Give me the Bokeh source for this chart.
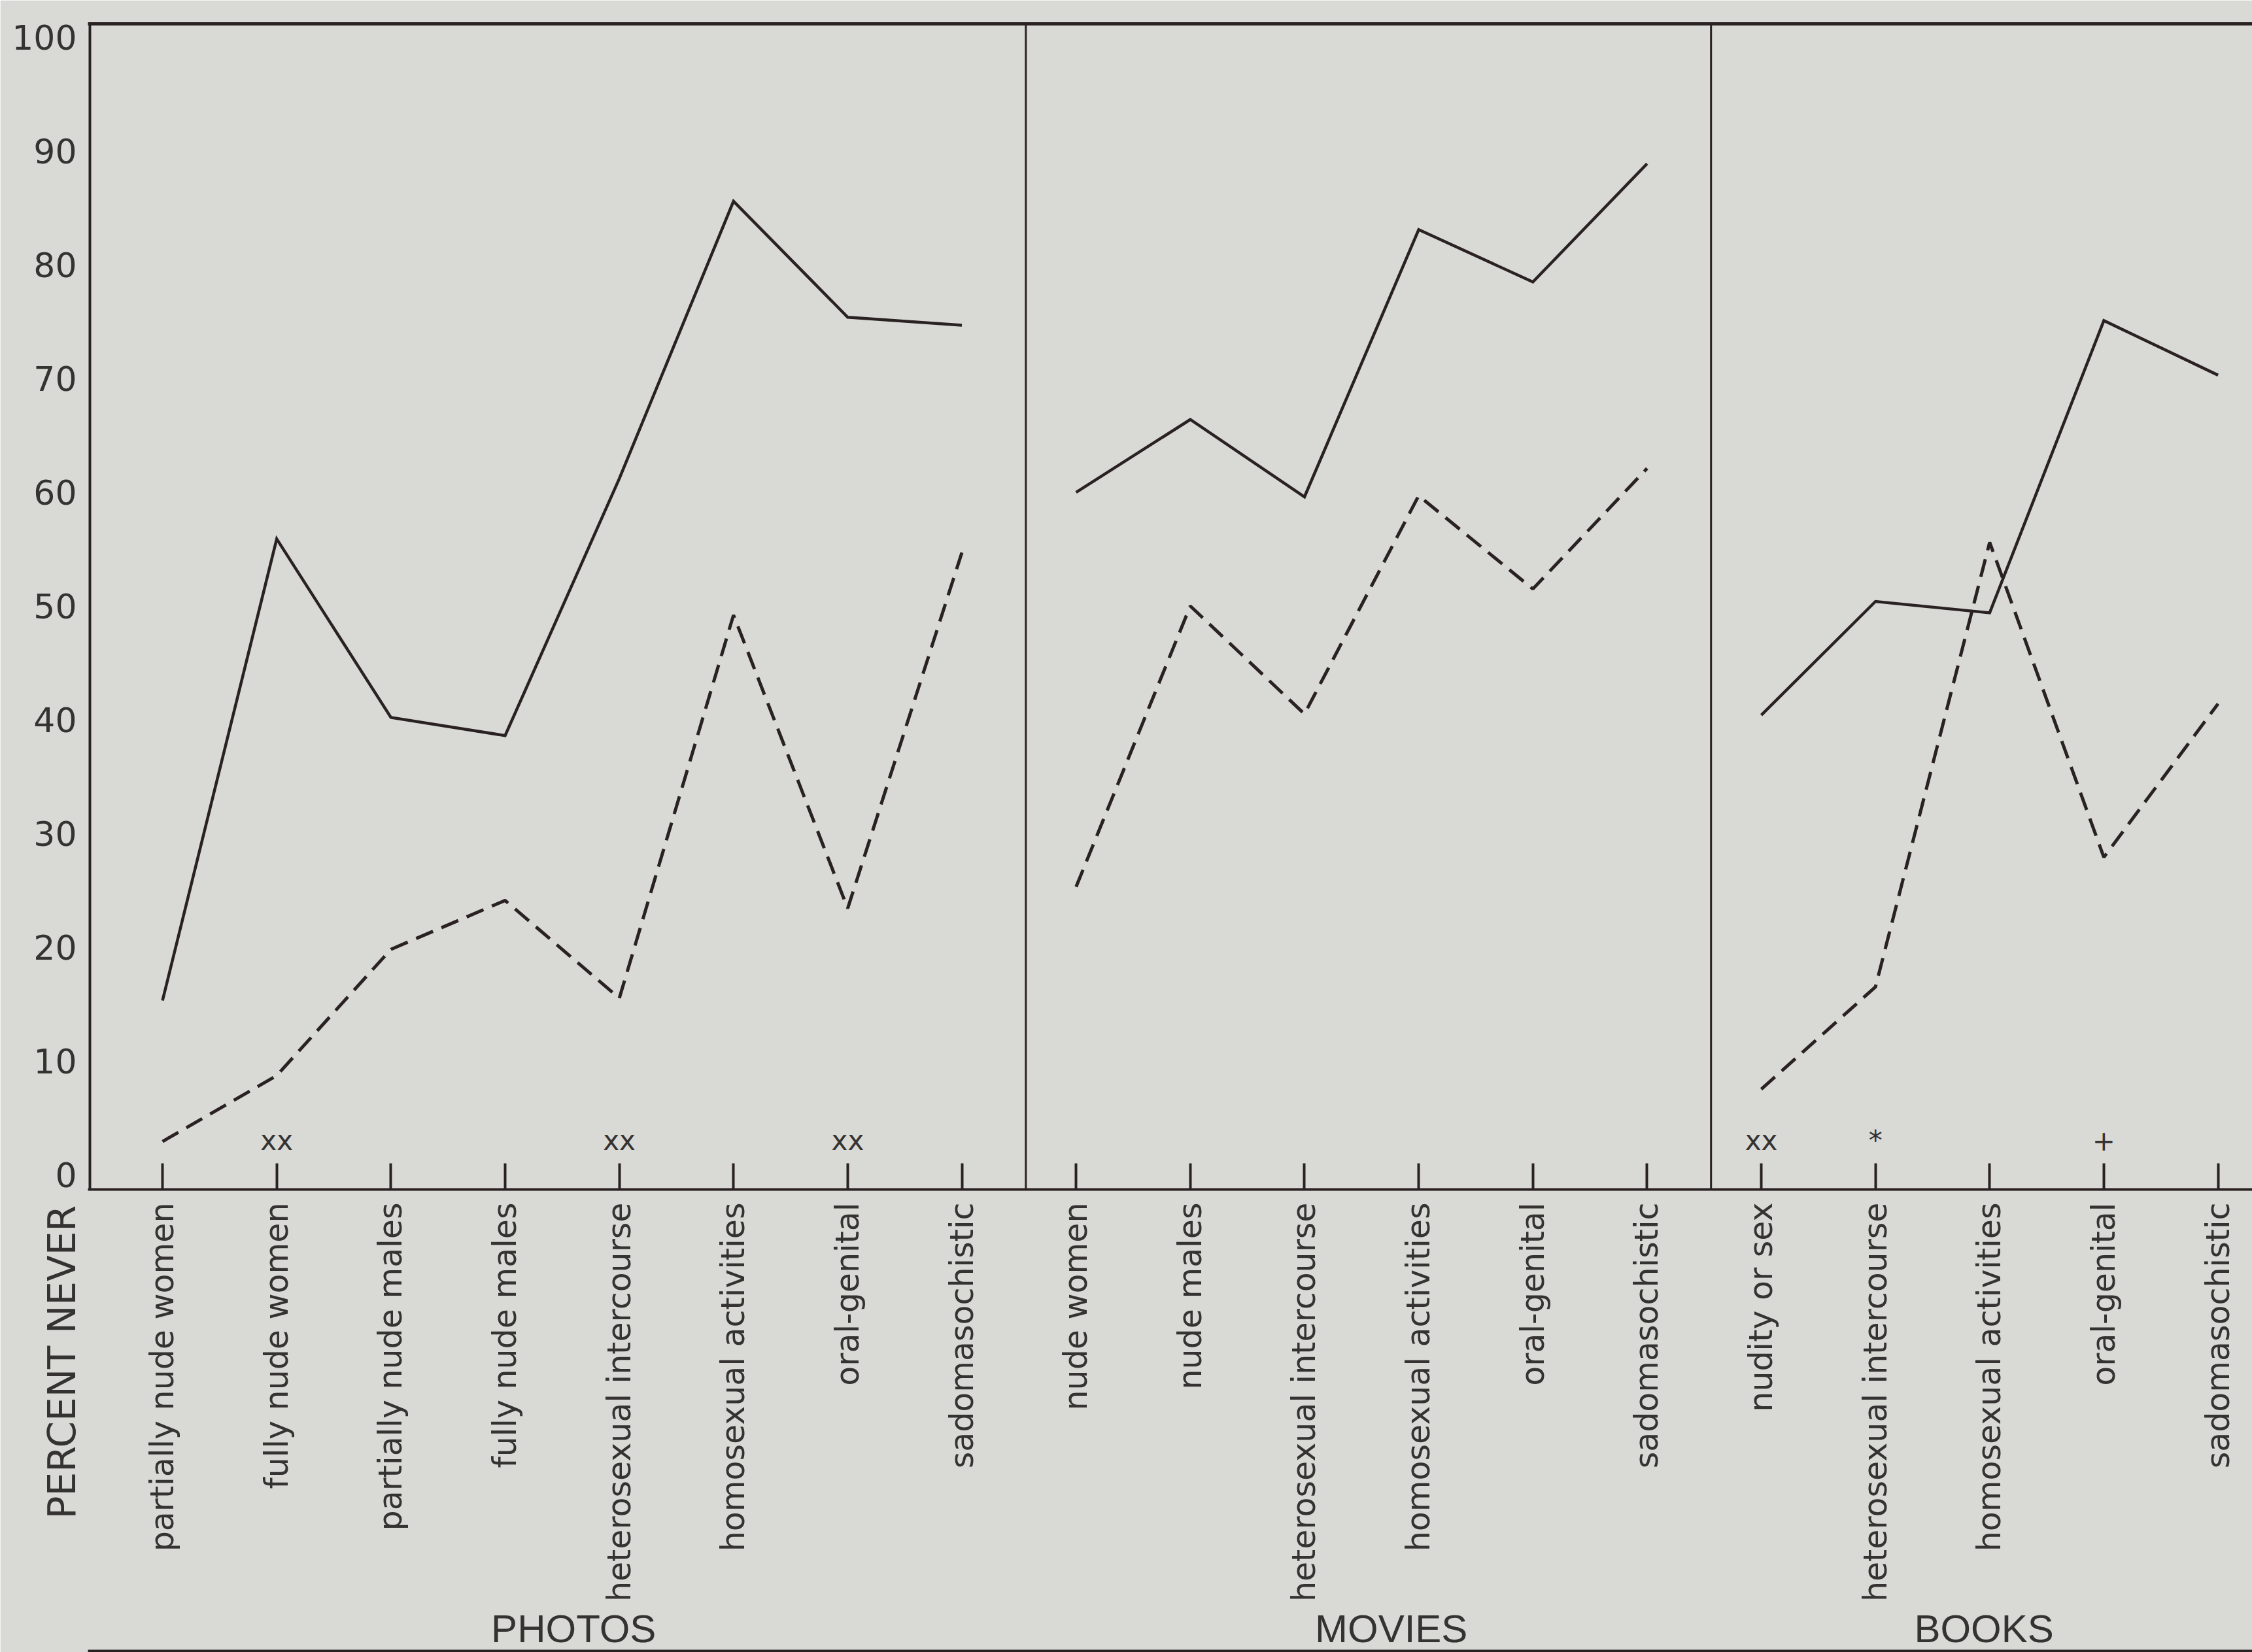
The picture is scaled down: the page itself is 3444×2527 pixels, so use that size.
import math
from bokeh.plotting import figure
from bokeh.models import FixedTicker, LinearAxis, Range1d, Span, Title, ColumnDataSource
from bokeh.embed import file_html
from bokeh.resources import INLINE

# ---------------- data (percent "never") ----------------
photos_cats = ["partially nude women", "fully nude women", "partially nude males",
               "fully nude males", "heterosexual intercourse", "homosexual activities",
               "oral-genital", "sadomasochistic"]
photos_solid = [15.3, 55.9, 40.2, 38.6, 61.2, 85.6, 75.4, 74.7]
photos_dashed = [2.9, 8.7, 19.8, 24.1, 15.5, 49.2, 23.4, 54.7]
photos_notes = ["", "xx", "", "", "xx", "", "xx", ""]

movies_cats = ["nude women", "nude males", "heterosexual intercourse",
               "homosexual activities", "oral-genital", "sadomasochistic"]
movies_solid = [60.0, 66.4, 59.6, 83.1, 78.5, 88.9]
movies_dashed = [25.3, 50.0, 40.5, 59.7, 51.5, 62.1]
movies_notes = ["", "", "", "", "", ""]

books_cats = ["nudity or sex", "heterosexual intercourse", "homosexual activities",
              "oral-genital", "sadomasochistic"]
books_solid = [40.4, 50.4, 49.4, 75.1, 70.3]
books_dashed = [7.5, 16.5, 55.6, 27.9, 41.4]
books_notes = ["xx", "*", "", "+", ""]

group_names = ["PHOTOS", "MOVIES", "BOOKS"]
y_ticks = [0, 10, 20, 30, 40, 50, 60, 70, 80, 90, 100]
y_title = "PERCENT NEVER"

# ---------------- style ----------------
BG = "#d9dad5"
INK = "#2a2222"
TXT = "#353232"
W, H = 3444, 2527
NOTE_Y = 3.0
GROUP_SHIFT = [0.1, 0.26, -0.05]
DIVIDER_SHIFT = 0.56
X_START = -0.653
BORDER_X = -0.636

p = figure(width=W, height=H, x_range=Range1d(X_START, 18.30), y_range=Range1d(-1.32, 101.2),
           output_backend="svg", toolbar_location=None,
           min_border_left=134, min_border_right=0, min_border_top=36, min_border_bottom=707)
p.background_fill_color = BG
p.border_fill_color = BG
p.outline_line_color = None
p.grid.visible = False

groups = [
    (photos_cats, photos_solid, photos_dashed, photos_notes),
    (movies_cats, movies_solid, movies_dashed, movies_notes),
    (books_cats, books_solid, books_dashed, books_notes),
]

overrides = {}
group_centers = {}
offset = 0
for gi, (cats, solid, dashed, notes) in enumerate(groups):
    xs = list(range(offset, offset + len(cats)))
    p.line(xs, solid, line_color=INK, line_width=4.5, line_join="miter")
    p.line(xs, dashed, line_color=INK, line_width=5, line_dash="28 14")
    nx = [x for x, n in zip(xs, notes) if n]
    nt = [n for n in notes if n]
    if nx:
        src = ColumnDataSource(dict(x=nx, y=[NOTE_Y] * len(nx), t=nt))
        p.text(x="x", y="y", text="t", source=src, text_align="center",
               text_baseline="middle", text_font_size="42px", text_color=TXT,
               text_font={"value": "DejaVu Sans"})
    for x, c in zip(xs, cats):
        overrides[x] = c
    group_centers[gi] = sum(xs) / len(xs) + GROUP_SHIFT[gi]
    offset += len(cats)
    if gi < len(groups) - 1:
        p.add_layout(Span(location=offset - 1 + DIVIDER_SHIFT, dimension="height",
                          line_color=INK, line_width=3))

# left border of the chart box
p.add_layout(Span(location=BORDER_X, dimension="height", line_color=INK, line_width=4))

# x axis (category names)
xa = p.xaxis[0]
xa.ticker = FixedTicker(ticks=list(range(offset)))
xa.major_label_overrides = overrides
xa.major_label_orientation = math.pi / 2
xa.major_label_text_font = "DejaVu Sans"
xa.major_label_text_font_size = "49px"
xa.major_label_text_color = TXT
xa.major_label_standoff = 20
xa.major_tick_in = 40
xa.major_tick_out = 0
xa.major_tick_line_width = 4
xa.major_tick_line_color = INK
xa.minor_tick_line_color = None
xa.axis_line_width = 4
xa.axis_line_color = INK

# group names axis
ga = LinearAxis(ticker=FixedTicker(ticks=[group_centers[i] for i in range(3)]),
                major_label_overrides={group_centers[i]: group_names[i] for i in range(3)})
ga.axis_line_color = None
ga.major_tick_line_color = None
ga.minor_tick_line_color = None
ga.major_label_text_font = "'Liberation Sans Narrow', 'Liberation Sans', sans-serif"
ga.major_label_text_font_size = "60px"
ga.major_label_text_color = TXT
ga.major_label_standoff = -2
p.add_layout(ga, "below")

# bottom rule
ba = LinearAxis(ticker=FixedTicker(ticks=[]))
ba.axis_line_width = 8
ba.axis_line_color = INK
ba.major_tick_line_color = None
ba.minor_tick_line_color = None
p.add_layout(ba, "below")

# top rule
ta = LinearAxis(ticker=FixedTicker(ticks=[]))
ta.axis_line_width = 5
ta.axis_line_color = INK
ta.major_tick_line_color = None
ta.minor_tick_line_color = None
p.add_layout(ta, "above")

# y axis (its line is replaced by the border span)
ya = p.yaxis[0]
ya.ticker = FixedTicker(ticks=y_ticks)
ya.major_label_text_font = "DejaVu Sans"
ya.major_label_text_font_size = "52px"
ya.major_label_text_color = TXT
ya.major_label_standoff = -69
ya.major_tick_line_color = None
ya.minor_tick_line_color = None
ya.axis_line_color = None

# "PERCENT NEVER" title, innermost on the left, pushed below the baseline
yt = Title(text=y_title, align="left", vertical_align="middle", offset=-504,
           text_font="DejaVu Sans", text_font_size="58px", text_font_style="normal",
           text_color=TXT, standoff=10)
p.left = [yt, ya]

open("out.html", "w").write(file_html(p, INLINE))
